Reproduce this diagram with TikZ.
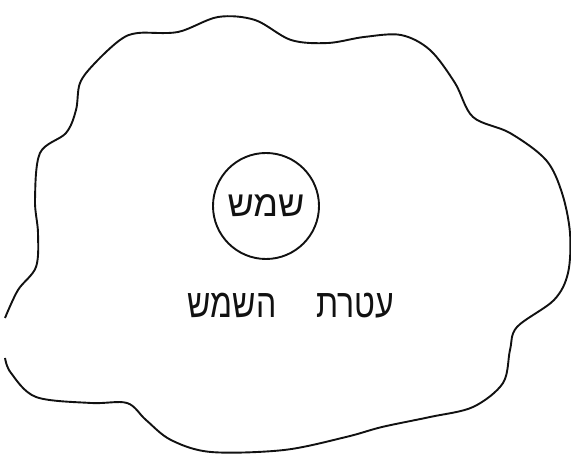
\documentclass[tikz,border=0pt]{standalone}
\usepackage{fontspec}
\setmainfont{Liberation Sans}
\newfontfamily\hebfont[Script=Hebrew]{Liberation Sans}
\newfontfamily\hebnarrow[Script=Hebrew,FakeStretch=0.8]{Liberation Sans}
\TeXXeTstate=1
\usetikzlibrary{positioning}
\definecolor{ink}{HTML}{111111}

\begin{document}
\begin{tikzpicture}[x=1pt,y=-1pt,line width=1.9pt,
  label/.style={inner sep=0pt,ink}]
\useasboundingbox (0,0) rectangle (571,457);
% corona outline (open at the left)
\draw[ink,line join=round] plot[smooth,tension=0.55] coordinates {
  (5,318) (18,290) (36,267) (38,233) (35,200) (40,153) (66,133) (76,110)
  (80,83) (95,63) (120,40) (138,33) (178,32) (218,17) (255,20) (291,40)
  (328,43) (364,37) (401,35) (430,50) (455,83) (473,117) (510,133)
  (546,160) (562,193) (570,233) (568,273) (554,300) (517,327) (510,350)
  (503,383) (473,407) (430,417) (382,427) (346,437) (284,450) (211,452)
  (171,440) (146,420) (127,403) (91,403) (36,397) (11,373) (5,358)};
% sun
\node[draw=ink,circle,minimum size=106pt,inner sep=0pt,label,
  font=\hebfont\fontsize{36}{36}\selectfont] (sun) at (266,206)
  {\beginR שמש\endR};
\node[label,font=\hebnarrow\fontsize{40}{40}\selectfont] (corona) at (291,306)
  {\beginR עטרת\hspace{40pt}השמש\endR};
\end{tikzpicture}
\end{document}
